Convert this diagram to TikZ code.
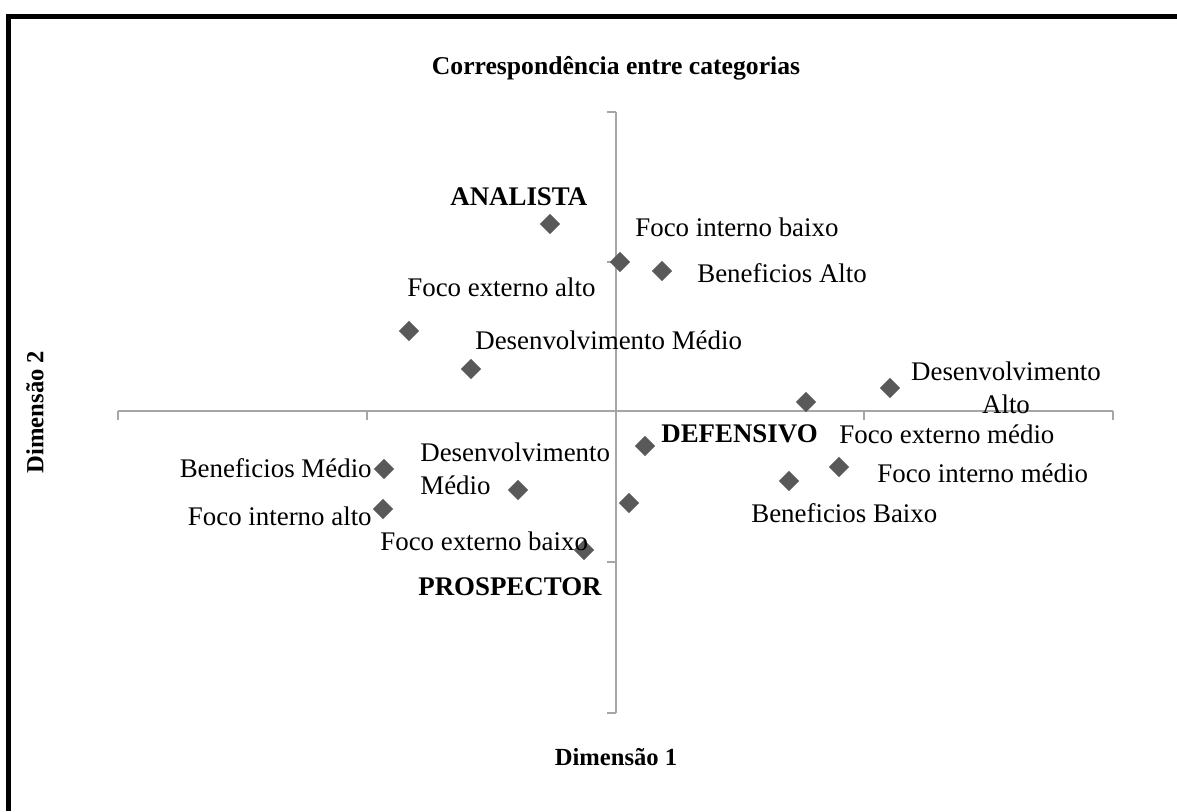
\documentclass[tikz,border=0pt]{standalone}
\usepackage{fontspec}
\setmainfont{Liberation Serif}
\usetikzlibrary{shapes.geometric}

\definecolor{markgray}{RGB}{89,89,89}
\definecolor{axisgray}{RGB}{166,166,166}
\newcommand\lblfont{\fontsize{15.3}{19}\selectfont}
\newcommand\ttlfont{\fontsize{14}{17}\selectfont\bfseries}

\begin{document}
\begin{tikzpicture}[x=0.2mm, y=-0.2mm,
  catpt/.style={diamond, fill=markgray, inner sep=0pt, minimum size=4.1mm},
  lbl/.style={font=\lblfont, inner sep=0pt},
  grp/.style={font=\lblfont\bfseries, inner sep=0pt},
  axis/.style={draw=axisgray, line width=0.8pt}]
  \useasboundingbox (0,0) rectangle (1177,811);
  % frame (only top and left edges show)
  \draw[line width=1mm] (8.5,811) -- (8.5,16.5) -- (1177,16.5);

  \node (ttl) [font=\fontsize{14.6}{17}\selectfont\bfseries] at (616,68)
    {Correspondência entre categorias};
  \node (dx) [font=\ttlfont] at (616,757) {Dimensão 1};
  \node (dy) [font=\ttlfont, rotate=90] at (35,412) {Dimensão 2};

  % axes
  \draw[axis] (616,112) -- (616,713);
  \draw[axis] (118,411) -- (1113,411);
  \foreach \y in {112,262,562,713}
    \draw[axis] (607,\y) -- (616,\y);
  \foreach \x in {118,367,864,1113}
    \draw[axis] (\x,411) -- (\x,420);

  % points
  \node (a) [catpt] at (550,224) {};
  \node (b) [catpt] at (620,262) {};
  \node (c) [catpt] at (662,271) {};
  \node (d) [catpt] at (409,331) {};
  \node (e) [catpt] at (471,369) {};
  \node (f) [catpt] at (890,388) {};
  \node (g) [catpt] at (806,402) {};
  \node (h) [catpt] at (645,446) {};
  \node (i) [catpt] at (839,467) {};
  \node (j) [catpt] at (789,481) {};
  \node (k) [catpt] at (629,503) {};
  \node (l) [catpt] at (384,469) {};
  \node (m) [catpt] at (518,490) {};
  \node (n) [catpt] at (383,509) {};
  \node (o) [catpt] at (584,550) {};

  % labels
  \node (la) [grp, anchor=west] at (450,197) {ANALISTA};
  \node (lb) [lbl, anchor=west] at (635,227) {Foco interno baixo};
  \node (lc) [lbl, anchor=west] at (697,273) {Beneficios Alto};
  \node (ld) [lbl, anchor=west] at (407,287) {Foco externo alto};
  \node (le) [lbl, anchor=west] at (475,340) {Desenvolvimento Médio};
  \node (lf) [lbl, align=center] at (1006,388) {Desenvolvimento\\Alto};
  \node (lh) [grp, anchor=west] at (661,434) {DEFENSIVO};
  \node (lg) [lbl, anchor=west] at (839,434) {Foco externo médio};
  \node (li) [lbl, anchor=west] at (877,473) {Foco interno médio};
  \node (lj) [lbl, anchor=west] at (751,513) {Beneficios Baixo};
  \node (ll) [lbl, anchor=east] at (372,468) {Beneficios Médio};
  \node (lm) [lbl, align=left, anchor=west] at (420,469) {Desenvolvimento\\Médio};
  \node (ln) [lbl, anchor=east] at (372,516) {Foco interno alto};
  \node (lo) [lbl, anchor=west] at (380,541) {Foco externo baixo};
  \node (lp) [grp, anchor=west] at (418,587) {PROSPECTOR};
\end{tikzpicture}
\end{document}
